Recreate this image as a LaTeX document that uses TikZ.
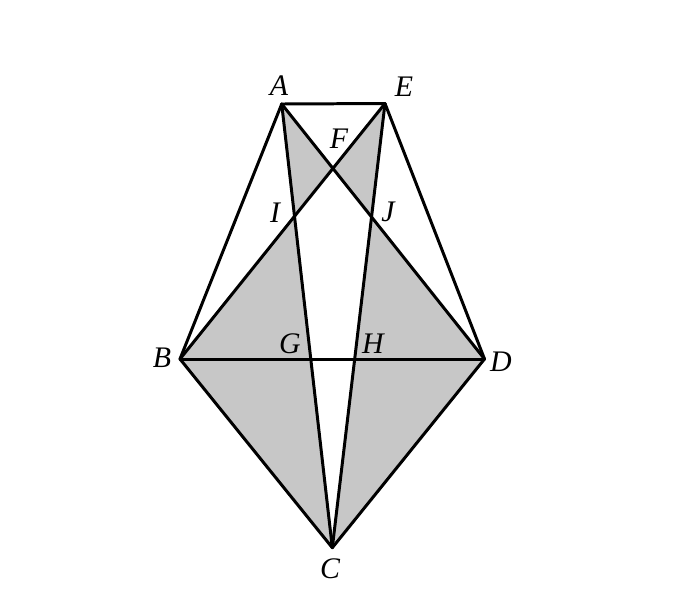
\documentclass[tikz,border=0pt]{standalone}
\usepackage{fontspec}
\setmainfont{Liberation Serif}
\begin{document}
\begin{tikzpicture}[x=0.02cm,y=-0.02cm,
	edge/.style={line width=1.7pt,line cap=round,line join=round},
	shade/.style={fill=black!22},
	lbl/.style={font=\fontsize{17}{20}\selectfont\itshape,inner sep=0pt}]
	\useasboundingbox (0,0) rectangle (680,600);

	% Points
	\coordinate (A) at (281.7,104);
	\coordinate (E) at (385,103.5);
	\coordinate (B) at (180,359);
	\coordinate (D) at (484.5,359);
	\coordinate (C) at (332.3,547.7);
	\coordinate (F) at (intersection of A--D and E--B);
	\coordinate (I) at (intersection of A--C and E--B);
	\coordinate (J) at (intersection of E--C and A--D);
	\coordinate (G) at (intersection of A--C and B--D);
	\coordinate (H) at (intersection of E--C and B--D);

	% Shaded parts
	\fill[shade] (A) -- (F) -- (I) -- cycle;
	\fill[shade] (E) -- (F) -- (J) -- cycle;
	\fill[shade] (B) -- (I) -- (C) -- cycle;
	\fill[shade] (D) -- (J) -- (C) -- cycle;

	% Lines
	\draw[edge] (A) -- (E);
	\draw[edge] (A) -- (B);
	\draw[edge] (E) -- (D);
	\draw[edge] (B) -- (D);
	\draw[edge] (B) -- (C);
	\draw[edge] (D) -- (C);
	\draw[edge] (A) -- (C);
	\draw[edge] (E) -- (C);
	\draw[edge] (A) -- (D);
	\draw[edge] (E) -- (B);

	% Labels
	\node[lbl] (lA) at (279,86) {A};
	\node[lbl] (lE) at (404,87) {E};
	\node[lbl] (lF) at (339,139) {F};
	\node[lbl] (lI) at (275,213) {I};
	\node[lbl] (lJ) at (388,212) {J};
	\node[lbl] (lG) at (290,344) {G};
	\node[lbl] (lH) at (373,344) {H};
	\node[lbl] (lB) at (162,358) {B};
	\node[lbl] (lD) at (501,362) {D};
	\node[lbl] (lC) at (330,569) {C};
\end{tikzpicture}
\end{document}
